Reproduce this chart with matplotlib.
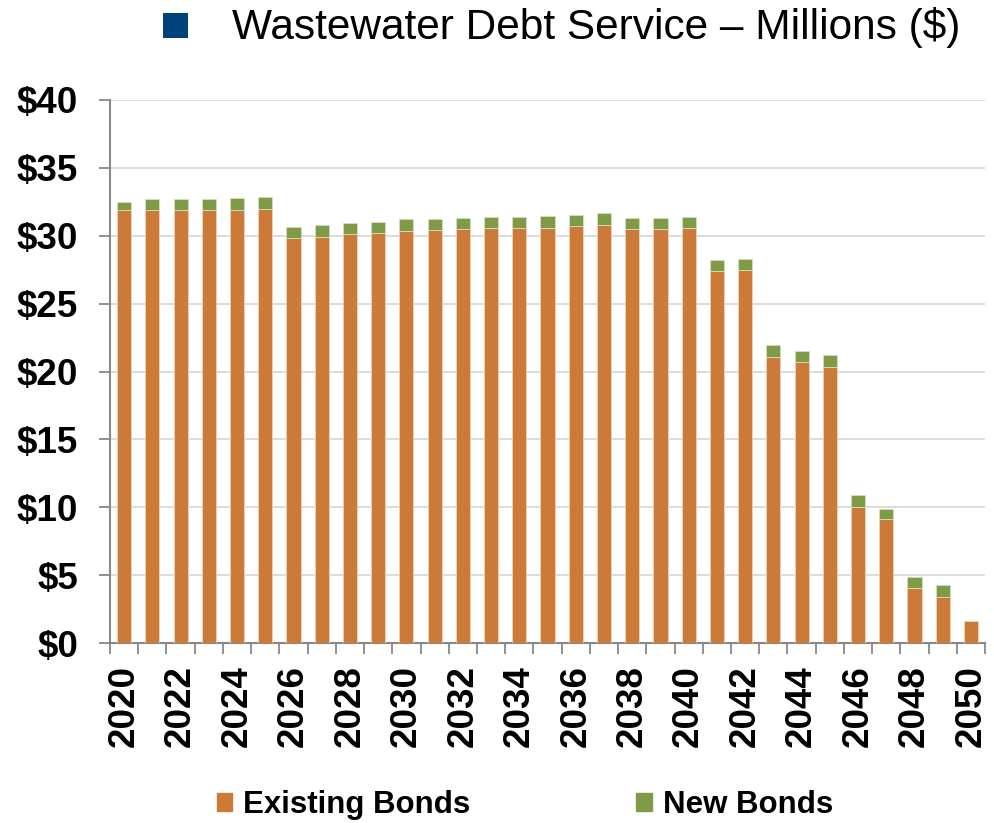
import numpy as np
import matplotlib.pyplot as plt
from matplotlib.patches import Rectangle

plt.rcParams['font.family'] = ['Liberation Sans', 'DejaVu Sans']

years = list(range(2020, 2051))
existing = [31.9, 31.9, 31.9, 31.9, 31.9, 32.0, 29.8, 29.9, 30.1, 30.2,
            30.35, 30.45, 30.5, 30.55, 30.55, 30.6, 30.7, 30.8, 30.5, 30.5,
            30.55, 27.4, 27.45, 21.1, 20.7, 20.35, 10.05, 9.1, 4.05, 3.4,
            1.65]
new = [0.6, 0.8, 0.8, 0.8, 0.85, 0.85, 0.85, 0.9, 0.85, 0.8,
       0.85, 0.8, 0.8, 0.85, 0.85, 0.85, 0.85, 0.85, 0.8, 0.8,
       0.8, 0.8, 0.85, 0.85, 0.8, 0.85, 0.85, 0.8, 0.8, 0.85,
       0.0]
y_ticks = [0, 5, 10, 15, 20, 25, 30, 35, 40]

orange = '#CC7A37'
green = '#7F9B48'

fig = plt.figure(figsize=(9.94, 8.23), dpi=100)
ax = fig.add_axes([0.1107, 0.2187, 0.8803, 0.6598])

x = np.arange(len(years))
ax.bar(x, existing, width=0.5, color=orange, edgecolor='#f2d2b6', linewidth=0.6, zorder=3)
ax.bar(x, new, width=0.5, bottom=existing, color=green, edgecolor='#d5e0c0', linewidth=0.6, zorder=3)

ax.set_xlim(-0.5, len(years) - 0.5)
ax.set_ylim(0, 40)
ax.set_yticks(y_ticks)
ax.set_yticklabels([f'${v}' for v in y_ticks], fontsize=26.5, fontweight='bold')
ax.yaxis.grid(True, color='#d9d9d9', linewidth=1.3, zorder=0)

# year labels on every other bar, boundary ticks between bars
ax.set_xticks(x[::2])
ax.set_xticklabels([str(y) for y in years[::2]], rotation=90, fontsize=26.5, fontweight='bold')
ax.set_xticks(np.arange(-0.5, len(years)), minor=True)
ax.tick_params(axis='x', which='major', length=0, pad=16)
ax.tick_params(axis='x', which='minor', length=8, width=1.3, color='#888888', direction='out')
ax.tick_params(axis='y', length=8, width=1.3, color='#888888', direction='out', pad=15)

for s in ['top', 'right']:
    ax.spines[s].set_visible(False)
for s in ['left', 'bottom']:
    ax.spines[s].set_color('#888888')
    ax.spines[s].set_linewidth(1.5)

# title with blue square marker
fig.patches.append(Rectangle((0.164, 0.954), 0.0252, 0.0304, transform=fig.transFigure,
                             facecolor='#00437B', edgecolor='none'))
fig.text(0.2334, 0.966, 'Wastewater Debt Service \u2013 Millions ($)', fontsize=30.5,
         va='center', ha='left')

handles = [Rectangle((0, 0), 1, 1, color=orange), Rectangle((0, 0), 1, 1, color=green)]
leg = fig.legend(handles, ['Existing Bonds', 'New Bonds'], loc='center',
                 bbox_to_anchor=(0.528, 0.022), ncol=2, frameon=False,
                 prop={'size': 22.5, 'weight': 'bold'}, handlelength=0.5, handleheight=0.5,
                 handletextpad=0.35, columnspacing=5.3)

fig.savefig('out.png', dpi=100)
